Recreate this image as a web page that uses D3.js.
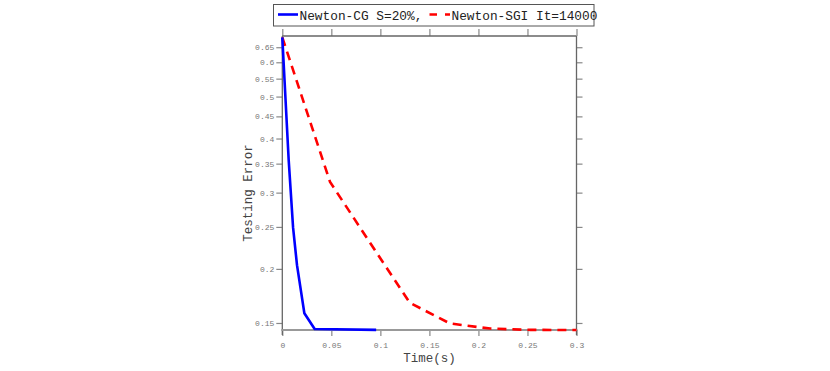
<!DOCTYPE html>
<html><head><meta charset="utf-8">
<script src="https://cdn.jsdelivr.net/npm/d3@7"></script>
<style>
body{margin:0;background:#fff;}
svg{display:block;}
text{font-family:"Liberation Mono","Courier New",monospace;}
</style></head>
<body>
<svg id="c" width="830" height="371"></svg>
<script>
// ---- data ----
const seriesNames = ["Newton-CG S=20%,", "Newton-SGI It=14000"];
const cgTime  = [0, 0.0065, 0.011, 0.015, 0.0225, 0.033, 0.0957];
const cgError = [0.685, 0.357, 0.249, 0.204, 0.158, 0.1453, 0.1446];
const sgiTime  = [0, 0.0487, 0.089, 0.130, 0.171, 0.212, 0.253, 0.3];
const sgiError = [0.685, 0.3175, 0.2307, 0.167, 0.1496, 0.1456, 0.1446, 0.1445];
const xTicks = [0, 0.05, 0.1, 0.15, 0.2, 0.25, 0.3];
const yTicks = [0.15, 0.2, 0.25, 0.3, 0.35, 0.4, 0.45, 0.5, 0.55, 0.6, 0.65];
const xLabel = "Time(s)";
const yLabel = "Testing Error";

// ---- layout ----
const L = 282.3, R = 576.5, T = 36, B = 330;
const svg = d3.select("#c");
const x = d3.scaleLinear().domain([0, 0.3]).range([L, R]);
const y = d3.scaleLog().domain([0.1445, 0.69]).range([B, T]);

const axisCol = "#666", tickCol = "#888", labCol = "#777";

function styleAxis(g){
  g.select(".domain").remove();
  g.selectAll(".tick line").attr("stroke", tickCol).attr("stroke-width", 1.2);
  g.selectAll(".tick text").attr("fill", labCol).style("font-size", "8px")
    .style("font-family", "'Liberation Mono','Courier New',monospace");
}

// bottom axis
svg.append("g").attr("transform", `translate(0,${B})`)
  .call(d3.axisBottom(x).tickValues(xTicks).tickFormat(d => String(d)).tickSize(6).tickPadding(6))
  .call(styleAxis);
// top axis
svg.append("g").attr("transform", `translate(0,${T})`)
  .call(d3.axisTop(x).tickValues(xTicks).tickFormat("").tickSize(7))
  .call(styleAxis);
// left axis
svg.append("g").attr("transform", `translate(${L},0)`)
  .call(d3.axisLeft(y).tickValues(yTicks).tickFormat(d => String(d)).tickSize(6).tickPadding(2))
  .call(styleAxis);
// right axis
svg.append("g").attr("transform", `translate(${R},0)`)
  .call(d3.axisRight(y).tickValues(yTicks).tickFormat("").tickSize(6))
  .call(styleAxis);

// frame
svg.append("line").attr("x1", L).attr("x2", R).attr("y1", T).attr("y2", T).attr("stroke", axisCol).attr("stroke-width", 1.3);
svg.append("line").attr("x1", L).attr("x2", L).attr("y1", T).attr("y2", B + 5).attr("stroke", axisCol).attr("stroke-width", 1.3);
svg.append("line").attr("x1", R).attr("x2", R).attr("y1", T).attr("y2", B + 5).attr("stroke", axisCol).attr("stroke-width", 1.3);
svg.append("line").attr("x1", L - 1).attr("x2", R + 1).attr("y1", B).attr("y2", B).attr("stroke", "#999").attr("stroke-width", 2);

// axis labels
svg.append("text").attr("x", (L + R) / 2).attr("y", 362).attr("text-anchor", "middle")
  .attr("fill", "#444").style("font-size", "12.5px").text(xLabel);
svg.append("text").attr("transform", `translate(252,${(T + B) / 2 + 10}) rotate(-90)`)
  .attr("text-anchor", "middle").attr("fill", "#444").style("font-size", "12.5px").text(yLabel);

// lines
const line = d3.line().x(d => x(d[0])).y(d => y(d[1]));
const cgData = cgTime.map((t, i) => [t, cgError[i]]);
const sgiData = sgiTime.map((t, i) => [t, sgiError[i]]);
svg.append("path").datum(sgiData).attr("d", line).attr("fill", "none")
  .attr("stroke", "#ff0000").attr("stroke-width", 2.6).attr("stroke-dasharray", "9,6");
svg.append("path").datum(cgData).attr("d", line).attr("fill", "none")
  .attr("stroke", "#0000ff").attr("stroke-width", 2.6).attr("stroke-linejoin", "round");

// legend
const lg = svg.append("g");
lg.append("rect").attr("x", 273.5).attr("y", 4.5).attr("width", 320.5).attr("height", 21.5)
  .attr("fill", "#fff").attr("stroke", "#555").attr("stroke-width", 1);
lg.append("line").attr("x1", 278).attr("x2", 298).attr("y1", 14.5).attr("y2", 14.5)
  .attr("stroke", "#0000ff").attr("stroke-width", 2.6);
lg.append("text").attr("x", 299.5).attr("y", 19.5).attr("fill", "#222").style("font-size", "12.8px")
  .text(seriesNames[0]);
lg.append("line").attr("x1", 429.5).attr("x2", 450).attr("y1", 14.5).attr("y2", 14.5)
  .attr("stroke", "#ff0000").attr("stroke-width", 2.6).attr("stroke-dasharray", "7.5,8");
lg.append("text").attr("x", 451.5).attr("y", 19.5).attr("fill", "#222").style("font-size", "12.8px")
  .text(seriesNames[1]);
</script>
</body></html>
